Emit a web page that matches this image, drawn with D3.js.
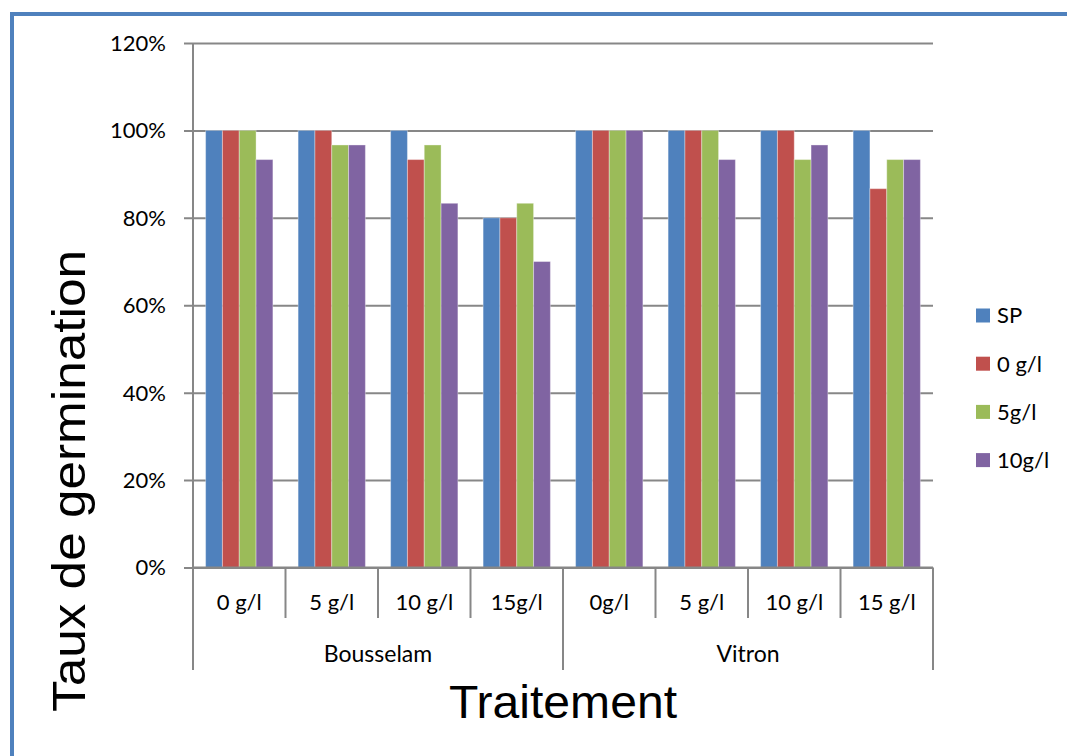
<!DOCTYPE html>
<html>
<head>
<meta charset="utf-8">
<script src="https://cdn.jsdelivr.net/npm/d3@7"></script>
<style>
  html, body { margin: 0; padding: 0; background: #fff; }
  svg { display: block; }
  .lbl { font-family: Lato, "Open Sans", sans-serif; fill: #000; }
  .title { font-family: "Liberation Sans", Arial, sans-serif; fill: #000; }
</style>
</head>
<body>
<svg id="chart" width="1067" height="756"></svg>
<script>
// Germination rate per treatment, by cultivar
const categories = ["0 g/l", "5 g/l", "10 g/l", "15g/l", "0g/l", "5 g/l", "10 g/l", "15 g/l"];
const groups = ["Bousselam", "Vitron"];
const groupSizes = [4, 4];
const seriesNames = ["SP", "0 g/l", "5g/l", "10g/l"];
const seriesColors = ["#4f81bd", "#c0504d", "#9bbb59", "#8064a2"];
const valuesSP   = [100, 100, 100,   80,    100, 100,   100,   100];
const values0    = [100, 100, 93.33, 80,    100, 100,   100,   86.67];
const values5    = [100, 96.67, 96.67, 83.33, 100, 100, 93.33, 93.33];
const values10   = [93.33, 96.67, 83.33, 70,  100, 93.33, 96.67, 93.33];
const yTicks = [0, 20, 40, 60, 80, 100, 120];

const seriesValues = [valuesSP, values0, values5, values10];

const svg = d3.select("#chart");
const plotLeft = 193, plotRight = 933, plotTop = 43, plotBottom = 567.5;
const axisColor = "#878787";

// outer frame
svg.append("rect")
  .attr("x", 12).attr("y", 14)
  .attr("width", 1100).attr("height", 800)
  .attr("fill", "none")
  .attr("stroke", "#4f81bd")
  .attr("stroke-width", 4);

const x = d3.scaleBand()
  .domain(d3.range(categories.length))
  .range([plotLeft, plotRight])
  .paddingInner(0).paddingOuter(0);

const xs = d3.scaleBand()
  .domain(d3.range(seriesNames.length))
  .range([0, x.bandwidth()])
  .paddingInner(0).paddingOuter(0.75);

const y = d3.scaleLinear().domain([0, 120]).range([plotBottom, plotTop]);

// horizontal gridlines + y ticks
const yAxis = d3.axisLeft(y)
  .tickValues(yTicks)
  .tickSize(-(plotRight - plotLeft))
  .tickPadding(18)
  .tickFormat(d => d + "%");
const gy = svg.append("g").attr("transform", `translate(${plotLeft},0)`).call(yAxis);
gy.select(".domain").remove();
gy.selectAll(".tick line")
  .attr("x1", -9)
  .attr("stroke", axisColor).attr("stroke-width", 2);
gy.selectAll(".tick text")
  .attr("class", "lbl")
  .attr("font-size", 22)
  .attr("dy", "0.34em")
  .attr("x", -27);

// bars
const barG = svg.append("g");
seriesValues.forEach((vals, s) => {
  barG.selectAll(null)
    .data(vals)
    .join("rect")
    .attr("x", (d, i) => x(i) + xs(s))
    .attr("y", d => y(d))
    .attr("width", xs.bandwidth())
    .attr("height", d => y(0) - y(d))
    .attr("fill", seriesColors[s])
    .attr("stroke", "rgba(255,255,255,0.35)")
    .attr("stroke-width", 1);
});

// y axis line
svg.append("line")
  .attr("x1", plotLeft).attr("x2", plotLeft)
  .attr("y1", plotTop).attr("y2", 670)
  .attr("stroke", axisColor).attr("stroke-width", 2);

// x axis line
svg.append("line")
  .attr("x1", plotLeft).attr("x2", plotRight)
  .attr("y1", y(0)).attr("y2", y(0))
  .attr("stroke", axisColor).attr("stroke-width", 2);

// category separators
const groupStarts = [0];
groupSizes.forEach((n, i) => groupStarts.push(groupStarts[i] + n));
d3.range(1, categories.length + 1).forEach(i => {
  const xb = i < categories.length ? x(i) : plotRight;
  const isGroupEdge = groupStarts.includes(i);
  svg.append("line")
    .attr("x1", xb).attr("x2", xb)
    .attr("y1", y(0)).attr("y2", isGroupEdge ? 670 : 618)
    .attr("stroke", axisColor).attr("stroke-width", 2);
});

// category labels
svg.selectAll(".cat")
  .data(categories)
  .join("text")
  .attr("class", "lbl")
  .attr("x", (d, i) => x(i) + x.bandwidth() / 2)
  .attr("y", 610)
  .attr("text-anchor", "middle")
  .attr("font-size", 22)
  .text(d => d);

// group labels
svg.selectAll(".grp")
  .data(groups)
  .join("text")
  .attr("class", "lbl")
  .attr("x", (d, i) => (x(groupStarts[i]) + (groupStarts[i + 1] < categories.length ? x(groupStarts[i + 1]) : plotRight)) / 2)
  .attr("y", 662)
  .attr("text-anchor", "middle")
  .attr("font-size", 23)
  .text(d => d);

// axis titles
svg.append("text")
  .attr("class", "title")
  .attr("x", 563).attr("y", 718)
  .attr("text-anchor", "middle")
  .attr("font-size", 46)
  .attr("textLength", 228)
  .attr("lengthAdjust", "spacingAndGlyphs")
  .text("Traitement");

svg.append("text")
  .attr("class", "title")
  .attr("transform", "translate(85,481) rotate(-90)")
  .attr("text-anchor", "middle")
  .attr("font-size", 47)
  .attr("textLength", 462)
  .attr("lengthAdjust", "spacingAndGlyphs")
  .text("Taux de germination");

// legend
const legend = svg.append("g").attr("transform", "translate(976,0)");
seriesNames.forEach((name, i) => {
  const cy = 315.5 + i * 48.2;
  legend.append("rect")
    .attr("x", 0).attr("y", cy - 7)
    .attr("width", 14).attr("height", 14)
    .attr("fill", seriesColors[i]);
  legend.append("text")
    .attr("class", "lbl")
    .attr("x", 21).attr("y", cy)
    .attr("dy", "0.36em")
    .attr("font-size", 22)
    .text(name);
});
</script>
</body>
</html>
